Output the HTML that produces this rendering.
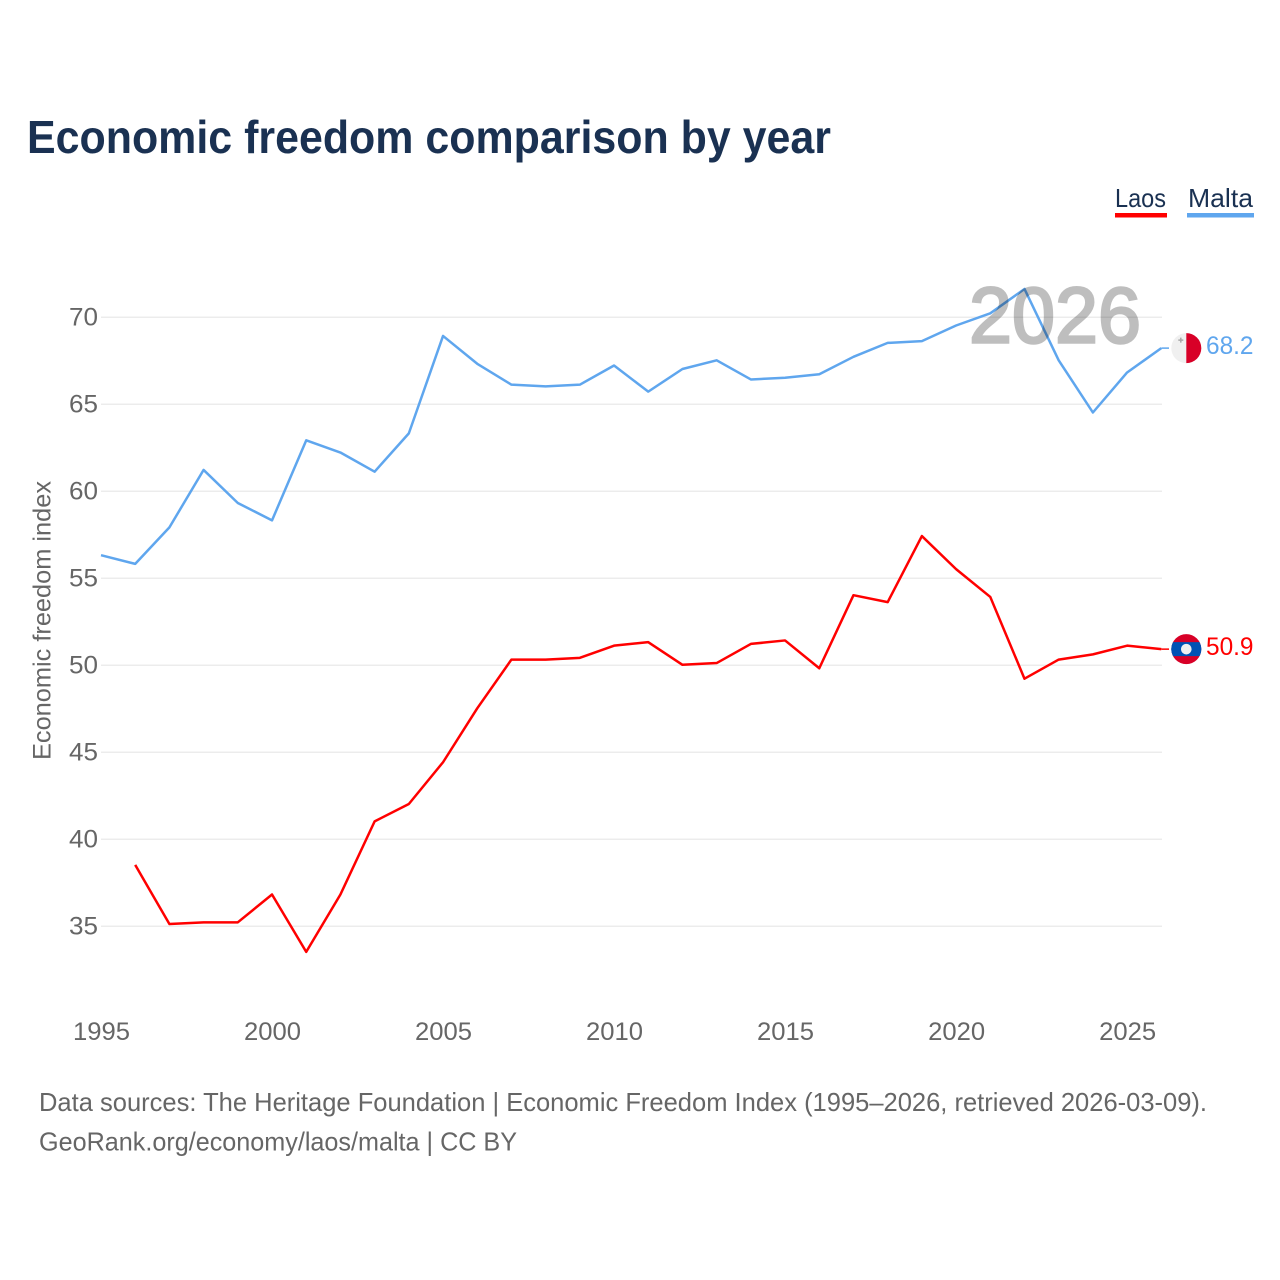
<!DOCTYPE html>
<html lang="en">
<head>
<meta charset="utf-8">
<title>Economic freedom comparison by year</title>
<style>
html,body{margin:0;padding:0;background:#fff;}
svg{display:block;font-family:"Liberation Sans",sans-serif;}
</style>
</head>
<body>
<svg id="chart" xmlns="http://www.w3.org/2000/svg" width="1280" height="1280" viewBox="0 0 1280 1280">
  <rect width="1280" height="1280" fill="#ffffff"/>
  <text x="27" y="153" font-size="46" font-weight="bold" fill="#1a3152" textLength="804" lengthAdjust="spacingAndGlyphs">Economic freedom comparison by year</text>

  <g>
    <text x="1115" y="207" font-size="26" fill="#1a3152" textLength="51" lengthAdjust="spacingAndGlyphs">Laos</text>
    <rect x="1115" y="213" width="52" height="4.5" fill="#ff0000"/>
  </g>
  <g>
    <text x="1188" y="207" font-size="26" fill="#1a3152" textLength="65" lengthAdjust="spacingAndGlyphs">Malta</text>
    <rect x="1187" y="213" width="67" height="4.5" fill="#5fa6ee"/>
  </g>

  <g id="grid"></g>
  <g id="yticks"></g>
  <g id="xticks"></g>
  <text transform="translate(50.5,620.5) rotate(-90)" text-anchor="middle" font-size="25" fill="#666666" textLength="279" lengthAdjust="spacingAndGlyphs">Economic freedom index</text>

  <g id="series"></g>
  <g id="endmarks"></g>

  <text x="969" y="342.5" font-size="79" fill="#000000" stroke="#000000" stroke-width="2.5" opacity="0.25" textLength="172" lengthAdjust="spacingAndGlyphs">2026</text>

  <text x="39" y="1111" font-size="26" fill="#666666" textLength="1168" lengthAdjust="spacingAndGlyphs">Data sources: The Heritage Foundation | Economic Freedom Index (1995–2026, retrieved 2026-03-09).</text>
  <text x="39" y="1150.5" font-size="26" fill="#666666" textLength="478" lengthAdjust="spacingAndGlyphs">GeoRank.org/economy/laos/malta | CC BY</text>
</svg>
<script>
const years = [1995,1996,1997,1998,1999,2000,2001,2002,2003,2004,2005,2006,2007,2008,2009,2010,2011,2012,2013,2014,2015,2016,2017,2018,2019,2020,2021,2022,2023,2024,2025,2026];
const maltaValues = [56.3,55.8,57.9,61.2,59.3,58.3,62.9,62.2,61.1,63.3,68.9,67.3,66.1,66.0,66.1,67.2,65.7,67.0,67.5,66.4,66.5,66.7,67.7,68.5,68.6,69.5,70.2,71.6,67.5,64.5,66.8,68.2];
const laosValues = [null,38.5,35.1,35.2,35.2,36.8,33.5,36.8,41.0,42.0,44.4,47.5,50.3,50.3,50.4,51.1,51.3,50.0,50.1,51.2,51.4,49.8,54.0,53.6,57.4,55.5,53.9,49.2,50.3,50.6,51.1,50.9];
const yTickValues = [35,40,45,50,55,60,65,70];
const xTickValues = [1995,2000,2005,2010,2015,2020,2025];

const NS = 'http://www.w3.org/2000/svg';
const plotLeft = 101, plotRight = 1161.3;
function xScale(year){ return plotLeft + (year - 1995) * (plotRight - plotLeft) / (2026 - 1995); }
function yScale(v){ return 316.8 + (70 - v) * 17.4; }
function make(tag, attrs, parent, text){
  const el = document.createElementNS(NS, tag);
  for (const k in attrs) el.setAttribute(k, attrs[k]);
  if (text !== undefined) el.textContent = text;
  parent.appendChild(el);
  return el;
}
const grid = document.getElementById('grid');
const yticks = document.getElementById('yticks');
const xticks = document.getElementById('xticks');
const series = document.getElementById('series');
const endmarks = document.getElementById('endmarks');

yTickValues.forEach(function(v){
  const gy = Math.round(yScale(v)) + 0.2;
  const line = make('line', {x1: plotLeft, x2: 1162, y1: gy, y2: gy, stroke: '#ececec', 'stroke-width': 1.5}, grid);
  
  
  const label = make('text', {x: 98, y: gy + 8.5, 'text-anchor': 'end', 'font-size': 25, fill: '#666666', textLength: 29, lengthAdjust: 'spacingAndGlyphs'}, yticks, String(v));
  
  
});

xTickValues.forEach(function(y){
  const label = make('text', {x: xScale(y) + 0.5, y: 1040, 'text-anchor': 'middle', 'font-size': 25, fill: '#666666', textLength: 57, lengthAdjust: 'spacingAndGlyphs'}, xticks, String(y));
  
  
});

function linePath(values){
  let d = '';
  values.forEach(function(v, i){
    if (v === null) return;
    d += (d ? 'L' : 'M') + xScale(years[i]).toFixed(2) + ' ' + yScale(v).toFixed(2);
  });
  return d;
}

const laosLine = make('path', {d: linePath(laosValues), fill: 'none', stroke: '#ff0000', 'stroke-width': 2.5, 'stroke-linejoin': 'round'}, series);


const maltaLine = make('path', {d: linePath(maltaValues), fill: 'none', stroke: '#5fa6ee', 'stroke-width': 2.5, 'stroke-linejoin': 'round'}, series);



/* end markers */
const laosLast = laosValues[laosValues.length - 1];
const maltaLast = maltaValues[maltaValues.length - 1];
const laosY = yScale(laosLast);
const maltaY = yScale(maltaLast);
const flagX = 1186.3, flagR = 15;

const laosConn = make('line', {x1: plotRight, x2: 1169, y1: laosY, y2: laosY, stroke: '#ff0000', 'stroke-width': 1.5}, endmarks);


const maltaConn = make('line', {x1: plotRight, x2: 1169, y1: maltaY, y2: maltaY, stroke: '#5fa6ee', 'stroke-width': 1.5}, endmarks);



const laosFlag = make('g', {}, endmarks);


make('circle', {cx: flagX, cy: laosY, r: flagR, fill: '#d80027'}, laosFlag);
const bandH = 7;
const bandW = Math.sqrt(flagR * flagR - bandH * bandH);
make('path', {d: 'M' + (flagX - bandW) + ' ' + (laosY - bandH) + 'H' + (flagX + bandW) + 'A' + flagR + ' ' + flagR + ' 0 0 1 ' + (flagX + bandW) + ' ' + (laosY + bandH) + 'H' + (flagX - bandW) + 'A' + flagR + ' ' + flagR + ' 0 0 1 ' + (flagX - bandW) + ' ' + (laosY - bandH) + 'Z', fill: '#0052b4'}, laosFlag);
make('circle', {cx: flagX, cy: laosY, r: 5.3, fill: '#f0f0f0'}, laosFlag);

const maltaFlag = make('g', {}, endmarks);


make('circle', {cx: flagX, cy: maltaY, r: flagR, fill: '#f0f0f0'}, maltaFlag);
make('path', {d: 'M' + flagX + ' ' + (maltaY - flagR) + 'A' + flagR + ' ' + flagR + ' 0 0 1 ' + flagX + ' ' + (maltaY + flagR) + 'Z', fill: '#d80027'}, maltaFlag);
make('path', {d: 'M' + (flagX - 8) + ' ' + (maltaY - 8) + 'h5M' + (flagX - 5.5) + ' ' + (maltaY - 10.5) + 'v5', stroke: '#a8a8a8', 'stroke-width': 1.5, fill: 'none'}, maltaFlag);

const laosLabel = make('text', {x: 1206, y: laosY + 6, 'font-size': 25, fill: '#ff0000', textLength: 47.5, lengthAdjust: 'spacingAndGlyphs'}, endmarks, laosLast.toFixed(1));


const maltaLabel = make('text', {x: 1206, y: maltaY + 6, 'font-size': 25, fill: '#5fa6ee', textLength: 47.5, lengthAdjust: 'spacingAndGlyphs'}, endmarks, maltaLast.toFixed(1));


</script>
</body>
</html>
